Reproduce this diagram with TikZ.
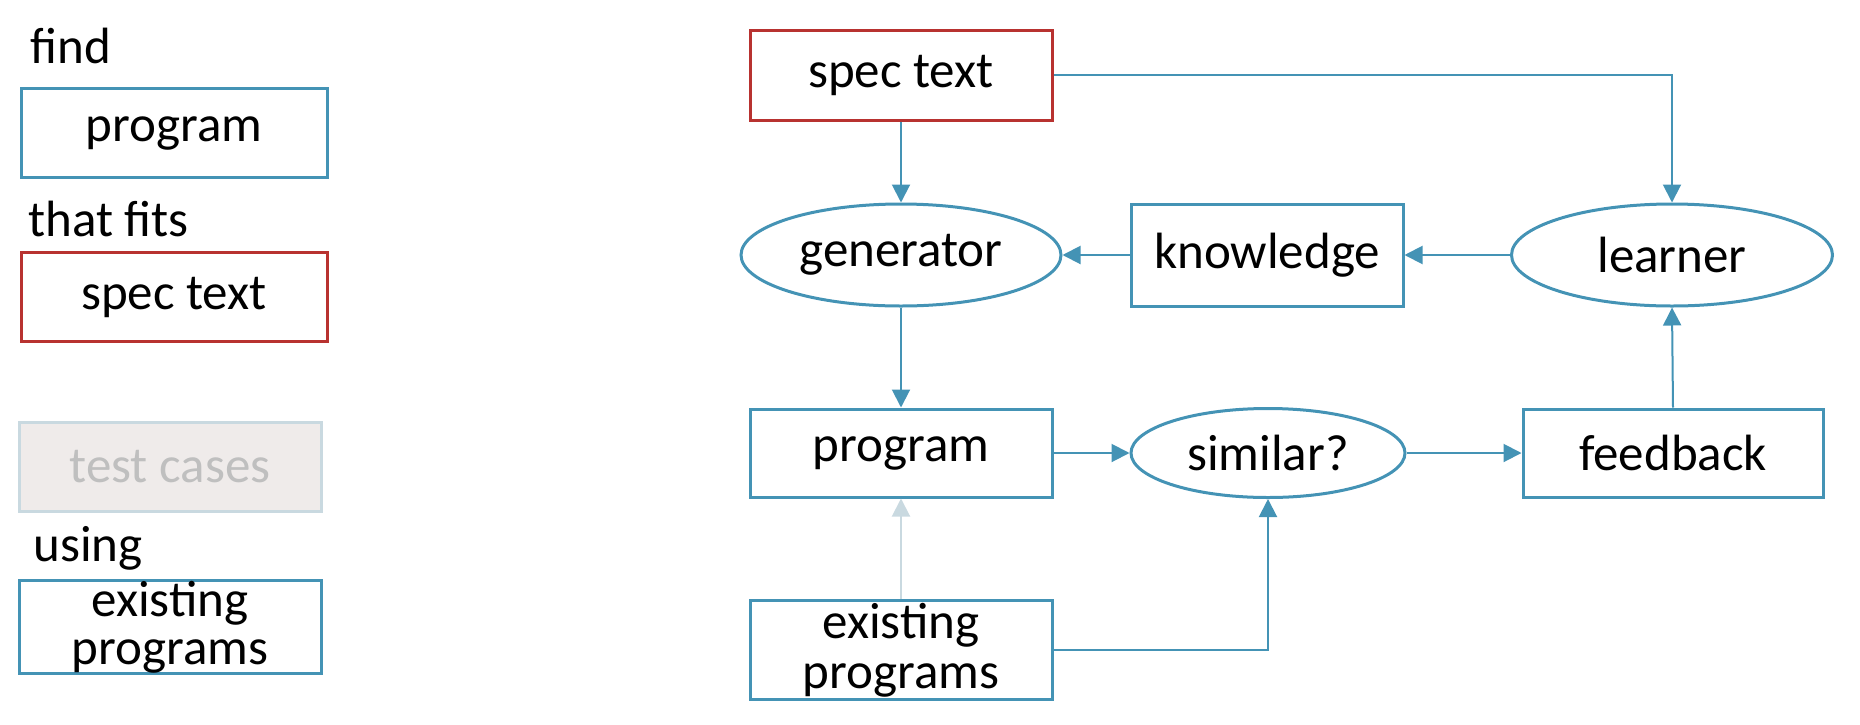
\documentclass[tikz,border=0pt]{standalone}
\usepackage{fontspec}
\setmainfont{Carlito}
\usetikzlibrary{arrows.meta,shapes.geometric}
\definecolor{blu}{HTML}{4493B5}
\definecolor{rd}{HTML}{B83230}
\definecolor{lgfill}{HTML}{EFEBEA}
\definecolor{lgline}{HTML}{C9D9E0}
\definecolor{lgtext}{HTML}{BFBFBF}
\begin{document}
\begin{tikzpicture}[x=0.5pt,y=-0.5pt,
  every node/.style={font=\fontsize{25.5}{25}\selectfont, inner sep=0pt},
  bbox/.style={draw=blu, line width=1.5pt, rectangle, minimum width=151pt, minimum height=44.5pt, align=center},
  rbox/.style={bbox, draw=rd},
  gbox/.style={bbox, draw=lgline, fill=lgfill, text=lgtext},
  ell/.style={draw=blu, line width=1.5pt, ellipse, minimum width=160pt, minimum height=51pt},
  lbl/.style={anchor=west},
  conn/.style={draw=blu, line width=1pt, -{Triangle[length=9pt,width=9pt]}},
  lconn/.style={conn, draw=lgline}
]
\useasboundingbox (0,0) rectangle (1860,724);
% left legend
\node[lbl] (find) at (30,46) {find};
\node[bbox, minimum width=153pt] (lprog) at (174,133) {program};
\node[lbl] (fits) at (28,219) {that fits};
\node[rbox, minimum width=153pt] (lspec) at (174,297) {spec text};
\node[gbox] (ltest) at (170,467) {test cases};
\node[lbl] (using) at (33,548) {using};
\node[bbox, minimum height=46pt, font=\fontsize{25.5}{24}\selectfont] (lex) at (170,627) {existing\\programs};
% main diagram
\node[rbox, minimum height=45pt] (spec) at (901,75) {spec text};
\node[ell] (gen) at (901,255) {generator};
\node[bbox, minimum width=136pt, minimum height=51pt] (know) at (1267,255) {knowledge};
\node[ell, minimum width=160.5pt] (learn) at (1672,255) {learner};
\node[bbox, minimum height=44pt] (prog) at (901,453) {program};
\node[ell, minimum width=137pt, minimum height=44.5pt] (sim) at (1268,453) {similar?};
\node[bbox, minimum width=150pt, minimum height=44pt] (fb) at (1673,453) {feedback};
\node[bbox, minimum height=49.5pt] (ex) at (901,650) {existing\\programs};
% connectors
\draw[conn] (spec.east) -| (learn.north);
\draw[conn] (spec.south) -- (gen.north);
\draw[conn] (know.west) -- (gen.east);
\draw[conn] (learn.west) -- (know.east);
\draw[conn] (gen.south) -- (prog.north);
\draw[conn] (prog.east) -- (sim.west);
\draw[conn] (sim.east) -- (fb.west);
\draw[conn] (fb.north) -- (learn.south);
\draw[lconn] (ex.north) -- (prog.south);
\draw[conn] (ex.east) -| (sim.south);
\end{tikzpicture}
\end{document}
